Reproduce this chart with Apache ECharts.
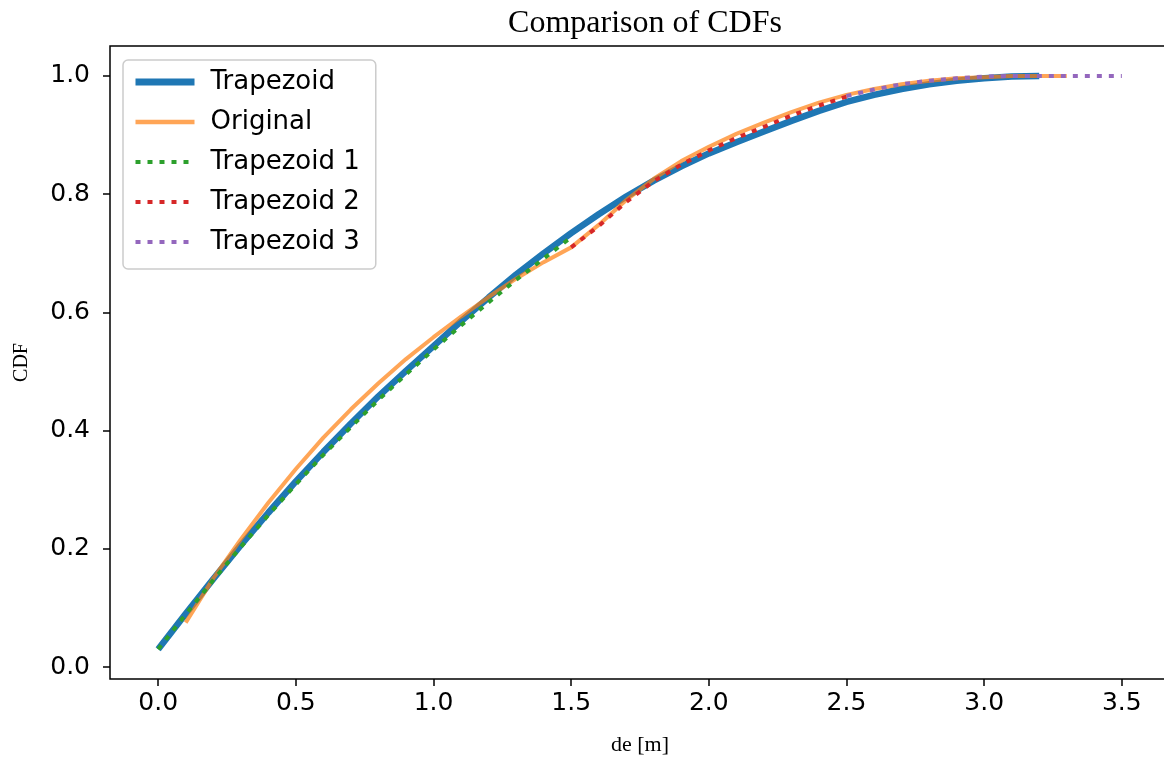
<!DOCTYPE html>
<html>
<head>
<meta charset="utf-8">
<script src="https://cdn.jsdelivr.net/npm/echarts@6.0.0/dist/echarts.min.js"></script>
<style>
  html, body { margin: 0; padding: 0; background: #fff; }
  #myChart { width: 1164px; height: 760px; }
</style>
</head>
<body>
<div id="myChart"></div>
<script>
// values, step 0.1 in de [m]
const trapX = [0, 0.1, 0.2, 0.3, 0.4, 0.5, 0.6, 0.7, 0.8, 0.9, 1.0, 1.1, 1.2, 1.3, 1.4, 1.5, 1.6, 1.7, 1.8, 1.9, 2.0, 2.1, 2.2, 2.3, 2.4, 2.5, 2.6, 2.7, 2.8, 2.9, 3.0, 3.1, 3.2]
const trapY = [0.030, 0.090, 0.149, 0.206, 0.261, 0.314, 0.364, 0.412, 0.458, 0.501, 0.543, 0.585, 0.625, 0.664, 0.700, 0.734, 0.766, 0.796, 0.823, 0.847, 0.869, 0.888, 0.906, 0.924, 0.941, 0.956, 0.968, 0.978, 0.986, 0.992, 0.996, 0.999, 1.000]

const origX = [0.1, 0.2, 0.3, 0.4, 0.5, 0.6, 0.7, 0.8, 0.9, 1.0, 1.1, 1.2, 1.3, 1.4, 1.5, 1.6, 1.7, 1.8, 1.9, 2.0, 2.1, 2.2, 2.3, 2.4, 2.5, 2.6, 2.7, 2.8, 2.9, 3.0, 3.1, 3.2, 3.3]
const origY = [0.075, 0.150, 0.216, 0.278, 0.335, 0.388, 0.436, 0.480, 0.521, 0.558, 0.593, 0.626, 0.657, 0.685, 0.710, 0.748, 0.790, 0.826, 0.856, 0.880, 0.902, 0.921, 0.939, 0.955, 0.968, 0.978, 0.986, 0.992, 0.996, 0.998, 1.000, 1.000, 1.000]

const trap1X = [0, 0.1, 0.2, 0.3, 0.4, 0.5, 0.6, 0.7, 0.8, 0.9, 1.0, 1.1, 1.2, 1.3, 1.4, 1.5]
const trap1Y = [0.030, 0.089, 0.147, 0.203, 0.257, 0.309, 0.359, 0.406, 0.452, 0.495, 0.537, 0.578, 0.617, 0.655, 0.691, 0.727]

const trap2X = [1.5, 1.6, 1.7, 1.8, 1.9, 2.0, 2.1, 2.2, 2.3, 2.4, 2.5]
const trap2Y = [0.710, 0.746, 0.787, 0.822, 0.850, 0.874, 0.895, 0.914, 0.933, 0.950, 0.965]

const trap3X = [2.5, 2.6, 2.7, 2.8, 2.9, 3.0, 3.1, 3.2, 3.3, 3.4, 3.5]
const trap3Y = [0.966, 0.977, 0.986, 0.992, 0.996, 0.999, 1.000, 1.000, 1.000, 1.000, 1.000]

const xTicks = [0, 0.5, 1.0, 1.5, 2.0, 2.5, 3.0, 3.5]
const yTicks = [0, 0.2, 0.4, 0.6, 0.8, 1.0]

const zip = (xs, ys) => xs.map((x, i) => [x, ys[i]])

const tickFont = { fontFamily: 'DejaVu Sans', fontSize: 25, color: '#000' }
const serif = 'Liberation Serif'
const dots = [5, 7]

const myChart = echarts.init(document.getElementById('myChart'), null, { renderer: 'canvas' })

myChart.setOption({
  animation: false,
  backgroundColor: '#fff',
  title: {
    text: 'Comparison of CDFs',
    left: 640,
    top: 3,
    textAlign: 'center',
    textStyle: { fontFamily: serif, fontSize: 32, fontWeight: 'normal', color: '#000' },
  },
  grid: {
    left: 110,
    top: 46,
    right: -6,
    bottom: 81,
    show: true,
    borderColor: '#000',
    borderWidth: 1.5,
    outerBoundsMode: 'none',
  },
  legend: {
    orient: 'vertical',
    left: 123,
    top: 60,
    padding: [9, 16, 14, 9],
    itemWidth: 59,
    itemHeight: 14,
    itemGap: 14,
    backgroundColor: 'rgba(255,255,255,0.8)',
    borderColor: '#cccccc',
    borderWidth: 1.5,
    borderRadius: 5,
    itemStyle: { opacity: 0 },
    textStyle: { fontFamily: 'DejaVu Sans', fontSize: 26, color: '#000', padding: [0, 0, 0, 11] },
    data: [
      { name: 'Trapezoid', lineStyle: { width: 7 } },
      { name: 'Original', lineStyle: { width: 4.5, opacity: 0.7 } },
      { name: 'Trapezoid 1', lineStyle: { width: 4, type: dots } },
      { name: 'Trapezoid 2', lineStyle: { width: 4, type: dots } },
      { name: 'Trapezoid 3', lineStyle: { width: 4, type: dots } },
    ],
  },
  xAxis: {
    type: 'value',
    min: -0.175,
    max: 3.675,
    name: 'de [m]',
    nameLocation: 'middle',
    nameGap: 55,
    nameTextStyle: { fontFamily: serif, fontSize: 22, color: '#000' },
    axisLine: { show: false, onZero: false },
    splitLine: { show: false },
    axisTick: { show: true, length: 7, customValues: xTicks, lineStyle: { color: '#000', width: 1.5 } },
    axisLabel: { customValues: xTicks, margin: 12, formatter: v => v.toFixed(1), ...tickFont },
  },
  yAxis: {
    type: 'value',
    min: -0.0203,
    max: 1.0507,
    name: 'CDF',
    nameLocation: 'middle',
    nameGap: 78,
    nameTextStyle: { fontFamily: serif, fontSize: 20, color: '#000' },
    axisLine: { show: false, onZero: false },
    splitLine: { show: false },
    axisTick: { show: true, length: 7, customValues: yTicks, lineStyle: { color: '#000', width: 1.5 } },
    axisLabel: { customValues: yTicks, margin: 20, formatter: v => v.toFixed(1), ...tickFont },
  },
  series: [
    {
      name: 'Trapezoid',
      type: 'line',
      symbol: 'none',
      data: zip(trapX, trapY),
      lineStyle: { color: '#1f77b4', width: 6.5 },
      itemStyle: { color: '#1f77b4' },
    },
    {
      name: 'Original',
      type: 'line',
      symbol: 'none',
      data: zip(origX, origY),
      lineStyle: { color: '#ff7f0e', width: 4, opacity: 0.7 },
      itemStyle: { color: '#ff7f0e' },
    },
    {
      name: 'Trapezoid 1',
      type: 'line',
      symbol: 'none',
      data: zip(trap1X, trap1Y),
      lineStyle: { color: '#2ca02c', width: 4, type: dots },
      itemStyle: { color: '#2ca02c' },
    },
    {
      name: 'Trapezoid 2',
      type: 'line',
      symbol: 'none',
      data: zip(trap2X, trap2Y),
      lineStyle: { color: '#d62728', width: 4, type: dots },
      itemStyle: { color: '#d62728' },
    },
    {
      name: 'Trapezoid 3',
      type: 'line',
      symbol: 'none',
      data: zip(trap3X, trap3Y),
      lineStyle: { color: '#9467bd', width: 4, type: dots },
      itemStyle: { color: '#9467bd' },
    },
  ],
})
</script>
</body>
</html>
